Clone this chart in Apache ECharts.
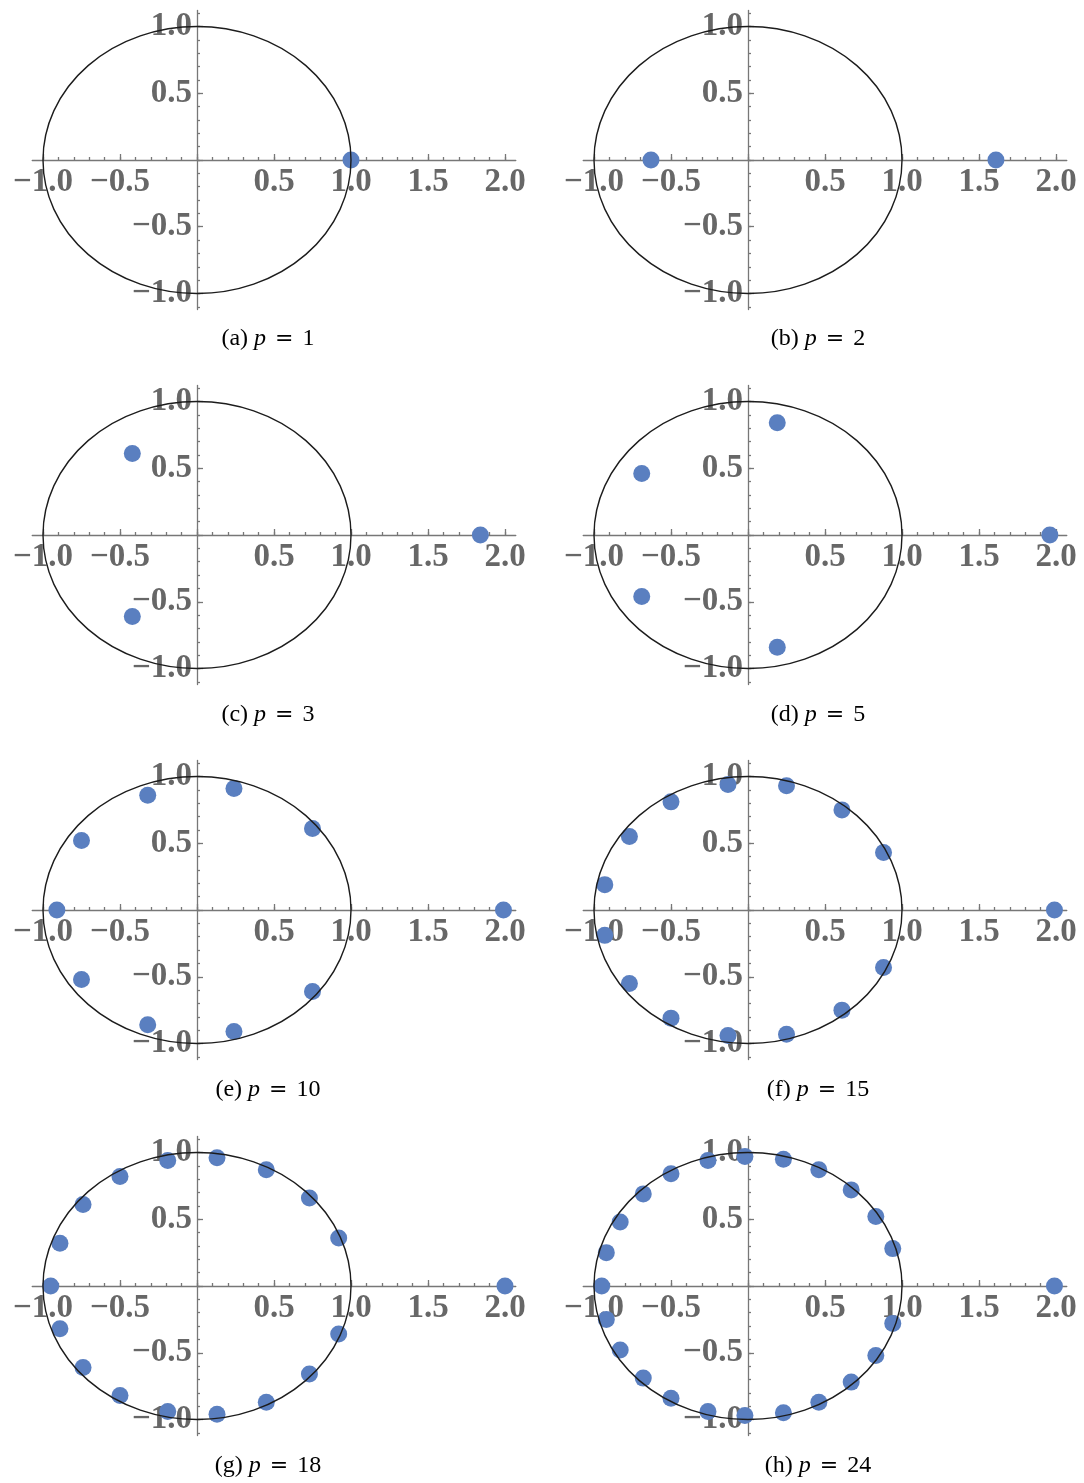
<!DOCTYPE html>
<html>
<head>
<meta charset="utf-8">
<title>roots on the unit circle</title>
<script src="https://cdn.jsdelivr.net/npm/echarts@6/dist/echarts.min.js"></script>
<style>
  html, body { margin: 0; padding: 0; background: #fff; }
  #chart { width: 1084px; height: 1483px; }
</style>
</head>
<body>
<div id="chart"></div>
<script>
// one panel per p
const panelLetters = ['a', 'b', 'c', 'd', 'e', 'f', 'g', 'h'];
const panelP = [1, 2, 3, 5, 10, 15, 18, 24];

const p1Re = [1.0];
const p1Im = [0];
const p2Re = [-0.63, 1.61];
const p2Im = [0, 0];
const p3Re = [1.84, -0.42, -0.42];
const p3Im = [0, 0.61, -0.61];
const p5Re = [1.96, 0.19, 0.19, -0.69, -0.69];
const p5Im = [0, 0.84, -0.84, 0.46, -0.46];
const p10Re = [1.99, 0.24, 0.24, 0.75, 0.75, -0.32, -0.32, -0.75, -0.75, -0.91];
const p10Im = [0, 0.91, -0.91, 0.61, -0.61, 0.86, -0.86, 0.52, -0.52, 0];
const p15Re = [1.99, 0.25, 0.25, 0.61, 0.61, 0.88, 0.88, -0.13, -0.13, -0.50, -0.50, -0.77, -0.77, -0.93, -0.93];
const p15Im = [0, 0.93, -0.93, 0.75, -0.75, 0.43, -0.43, 0.94, -0.94, 0.81, -0.81, 0.55, -0.55, 0.19, -0.19];
const p18Re = [2.0, -0.95, 0.13, 0.13, 0.45, 0.45, 0.73, 0.73, 0.92, 0.92, -0.19, -0.19, -0.50, -0.50, -0.74, -0.74, -0.89, -0.89];
const p18Im = [0, 0, 0.96, -0.96, 0.87, -0.87, 0.66, -0.66, 0.36, -0.36, 0.94, -0.94, 0.82, -0.82, 0.61, -0.61, 0.32, -0.32];
const p24Re = [1.99, -0.95, -0.02, -0.02, 0.23, 0.23, 0.46, 0.46, 0.67, 0.67, 0.83, 0.83, 0.94, 0.94,
               -0.26, -0.26, -0.50, -0.50, -0.68, -0.68, -0.83, -0.83, -0.92, -0.92];
const p24Im = [0, 0, 0.97, -0.97, 0.95, -0.95, 0.87, -0.87, 0.72, -0.72, 0.52, -0.52, 0.28, -0.28,
               0.94, -0.94, 0.84, -0.84, 0.69, -0.69, 0.48, -0.48, 0.25, -0.25];

const rootsRe = [p1Re, p2Re, p3Re, p5Re, p10Re, p15Re, p18Re, p24Re];
const rootsIm = [p1Im, p2Im, p3Im, p5Im, p10Im, p15Im, p18Im, p24Im];

// unit circle: centre x, centre y, radius
const circleDef = [0, 0, 1];

// axes
const xRange = [-1.07, 2.07];
const yRange = [-1.12, 1.12];
const xMajorTicks = [-1, -0.5, 0, 0.5, 1, 1.5, 2];
const xLabelValues = [-1, -0.5, 0.5, 1, 1.5, 2];
const xMinorTicks = [-1, -0.9, -0.8, -0.7, -0.6, -0.5, -0.4, -0.3, -0.2, -0.1, 0, 0.1, 0.2, 0.3, 0.4, 0.5,
                     0.6, 0.7, 0.8, 0.9, 1, 1.1, 1.2, 1.3, 1.4, 1.5, 1.6, 1.7, 1.8, 1.9, 2];
const yMajorTicks = [-1, -0.5, 0, 0.5, 1];
const yLabelValues = [-1, -0.5, 0.5, 1];
const yMinorTicks = [-1.1, -1, -0.9, -0.8, -0.7, -0.6, -0.5, -0.4, -0.3, -0.2, -0.1, 0, 0.1, 0.2, 0.3,
                     0.4, 0.5, 0.6, 0.7, 0.8, 0.9, 1, 1.1];

// layout (pixels)
const colOriginX = [197, 748];
const rowOriginY = [160, 535, 910, 1286];
const unitX = 154, unitY = 133.5;
const captionX = [268, 818];
const captionY = [339, 715, 1090, 1466];

const axisGray = '#777';
const labelFmt = v => (v < 0 ? '\u2212' : '') + Math.abs(v).toFixed(1);
const tickFont = {
  fontFamily: 'Liberation Serif',
  fontWeight: 'bold',
  fontSize: 33,
  color: '#676767'
};

// the axes cross at 0: shift them in from the grid edges
const xAxisShift = yRange[0] * unitY;   // negative -> up from bottom edge
const yAxisShift = xRange[0] * unitX;   // negative -> right from left edge

let grids = [], xAxes = [], yAxes = [], series = [], graphics = [];

panelLetters.forEach((letter, i) => {
  let col = i % 2, row = Math.floor(i / 2);
  grids.push({
    left: colOriginX[col] + xRange[0] * unitX,
    top: rowOriginY[row] - yRange[1] * unitY,
    width: (xRange[1] - xRange[0]) * unitX,
    height: (yRange[1] - yRange[0]) * unitY,
    containLabel: false,
    outerBoundsMode: 'none'
  });

  let lineStyle = { color: axisGray, width: 1.3 };
  // major x axis with labels
  xAxes.push({
    gridIndex: i, type: 'value', min: xRange[0], max: xRange[1], position: 'bottom', offset: xAxisShift,
    axisLine: { show: true, onZero: false, lineStyle: lineStyle },
    axisTick: { show: true, inside: true, length: 6, customValues: xMajorTicks, lineStyle: lineStyle },
    axisLabel: Object.assign({ show: true, margin: 6, customValues: xLabelValues, formatter: labelFmt }, tickFont),
    splitLine: { show: false }
  });
  // minor x ticks
  xAxes.push({
    gridIndex: i, type: 'value', min: xRange[0], max: xRange[1], position: 'bottom', offset: xAxisShift,
    axisLine: { show: false, onZero: false },
    axisTick: { show: true, inside: true, length: 3, customValues: xMinorTicks, lineStyle: lineStyle },
    axisLabel: { show: false },
    splitLine: { show: false }
  });
  yAxes.push({
    gridIndex: i, type: 'value', min: yRange[0], max: yRange[1], position: 'left', offset: yAxisShift,
    axisLine: { show: true, onZero: false, lineStyle: lineStyle },
    axisTick: { show: true, inside: true, length: 6, customValues: yMajorTicks, lineStyle: lineStyle },
    axisLabel: Object.assign({ show: true, margin: 5, customValues: yLabelValues, formatter: labelFmt }, tickFont),
    splitLine: { show: false }
  });
  yAxes.push({
    gridIndex: i, type: 'value', min: yRange[0], max: yRange[1], position: 'left', offset: yAxisShift,
    axisLine: { show: false, onZero: false },
    axisTick: { show: true, inside: true, length: 3, customValues: yMinorTicks, lineStyle: lineStyle },
    axisLabel: { show: false },
    splitLine: { show: false }
  });

  series.push({
    type: 'scatter',
    xAxisIndex: 2 * i, yAxisIndex: 2 * i,
    symbol: 'circle', symbolSize: 17,
    itemStyle: { color: '#5a7fc0', opacity: 1 },
    data: rootsRe[i].map((x, k) => [x, rootsIm[i][k]]),
    z: 3
  });
  series.push({
    type: 'custom',
    xAxisIndex: 2 * i, yAxisIndex: 2 * i,
    data: [circleDef],
    z: 4,
    renderItem(params, api) {
      let c = api.coord([api.value(0), api.value(1)]);
      let s = api.size([api.value(2), api.value(2)]);
      let rx = s[0], ry = s[1];
      let d = 'M ' + (c[0] - rx) + ' ' + c[1] +
              ' A ' + rx + ' ' + ry + ' 0 1 0 ' + (c[0] + rx) + ' ' + c[1] +
              ' A ' + rx + ' ' + ry + ' 0 1 0 ' + (c[0] - rx) + ' ' + c[1] + ' Z';
      return {
        type: 'path',
        shape: { pathData: d },
        style: { fill: null, stroke: '#1c1c1c', lineWidth: 1.4 }
      };
    }
  });

  graphics.push({
    type: 'text',
    x: captionX[col], y: captionY[row],
    style: {
      text: '{n|(' + letter + ') }{i|p}{e|=}{n|' + panelP[i] + '}',
      align: 'center', verticalAlign: 'middle',
      rich: {
        n: { fontFamily: 'Liberation Serif', fontSize: 24, fill: '#000' },
        i: { fontFamily: 'Liberation Serif', fontStyle: 'italic', fontSize: 24, fill: '#000' },
        e: { fontFamily: 'DejaVu Serif', fontSize: 22, fill: '#000', padding: [0, 9, 0, 9] }
      }
    }
  });
});

let chart = echarts.init(document.getElementById('chart'), null, { renderer: 'canvas' });
chart.setOption({
  animation: false,
  backgroundColor: '#fff',
  grid: grids,
  xAxis: xAxes,
  yAxis: yAxes,
  series: series,
  graphic: graphics
});
</script>
</body>
</html>
